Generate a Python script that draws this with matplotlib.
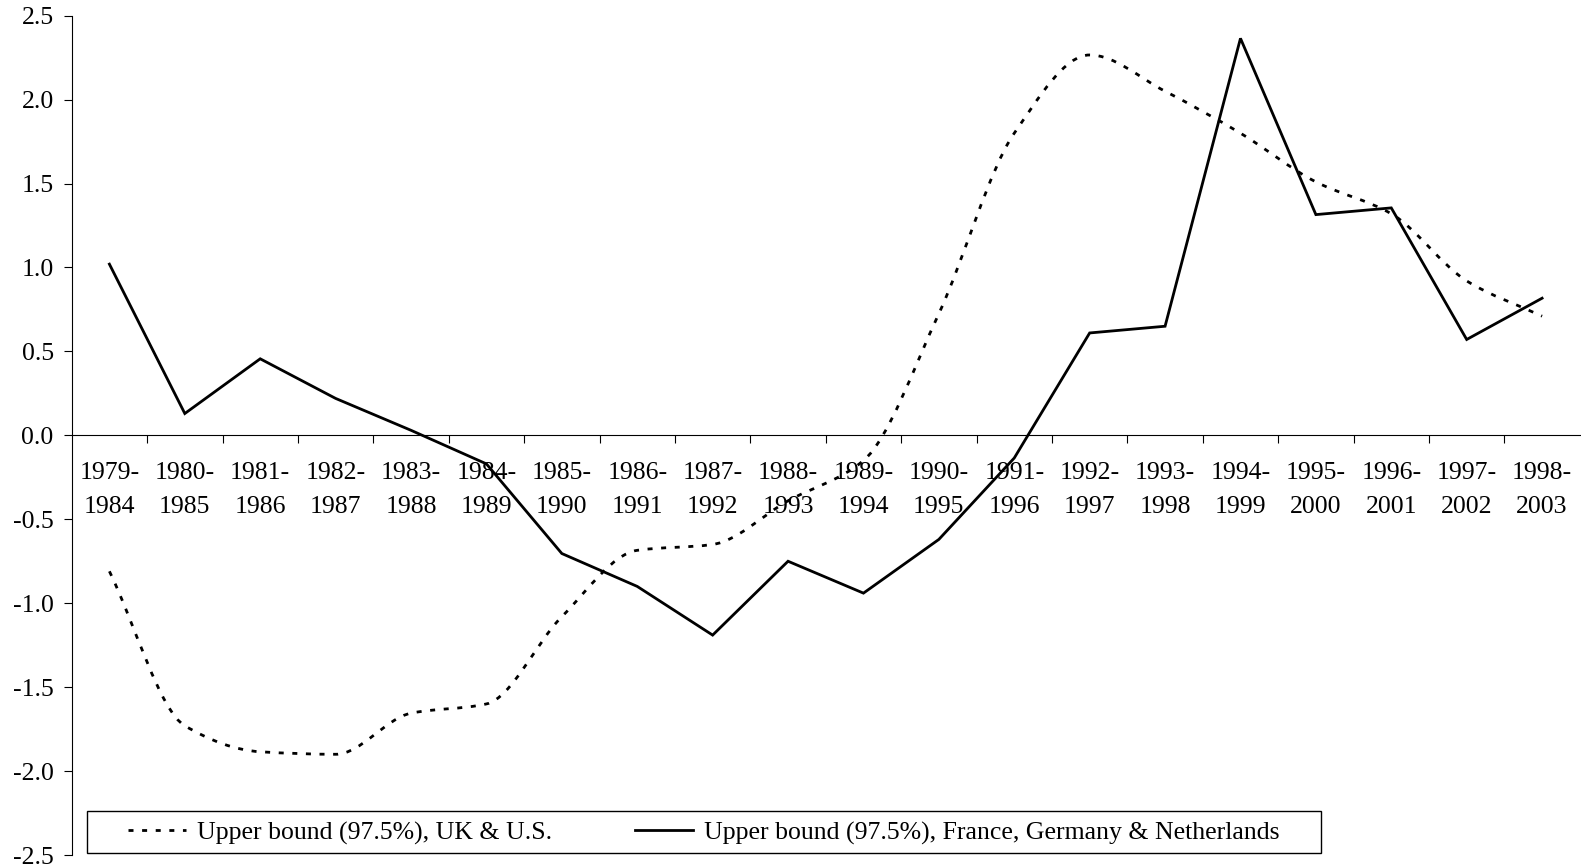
import numpy as np
import matplotlib
matplotlib.use("Agg")
import matplotlib.pyplot as plt
from matplotlib.path import Path
from matplotlib.patches import PathPatch, Rectangle
from matplotlib.lines import Line2D
from matplotlib.ticker import FixedLocator, FormatStrFormatter

plt.rcParams["font.family"] = ["Liberation Serif", "DejaVu Serif"]
plt.rcParams["axes.unicode_minus"] = False

periods = ["1979-\n1984", "1980-\n1985", "1981-\n1986", "1982-\n1987", "1983-\n1988",
           "1984-\n1989", "1985-\n1990", "1986-\n1991", "1987-\n1992", "1988-\n1993",
           "1989-\n1994", "1990-\n1995", "1991-\n1996", "1992-\n1997", "1993-\n1998",
           "1994-\n1999", "1995-\n2000", "1996-\n2001", "1997-\n2002", "1998-\n2003"]

# upper bound (97.5%), UK & U.S.
upper_uk_us = [-0.81, -1.73, -1.885, -1.90, -1.655, -1.60, -1.08, -0.685, -0.65, -0.39,
               -0.15, 0.725, 1.80, 2.266, 2.05, 1.80, 1.51, 1.32, 0.92, 0.71]
# upper bound (97.5%), France, Germany & Netherlands
upper_fgn = [1.02, 0.13, 0.456, 0.22, 0.03, -0.17, -0.704, -0.90, -1.19, -0.75,
             -0.94, -0.62, -0.135, 0.61, 0.65, 2.365, 1.315, 1.355, 0.571, 0.817]

legend_labels = ["Upper bound (97.5%), UK & U.S.",
                 "Upper bound (97.5%), France, Germany & Netherlands"]

FS = 18.5
DOT = (0, (1.8, 3.1))


def smooth_path(x, y):
    # cubic bezier through the points with monotone (Fritsch-Carlson) tangents
    x = np.asarray(x, float)
    y = np.asarray(y, float)
    n = len(x)
    h = np.diff(x)
    d = np.diff(y) / h
    m = np.zeros(n)
    m[0], m[-1] = d[0], d[-1]
    for i in range(1, n - 1):
        if d[i - 1] * d[i] > 0:
            m[i] = 2 * d[i - 1] * d[i] / (d[i - 1] + d[i])
    verts = [(x[0], y[0])]
    codes = [Path.MOVETO]
    for i in range(n - 1):
        verts += [(x[i] + h[i] / 3, y[i] + m[i] * h[i] / 3),
                  (x[i + 1] - h[i] / 3, y[i + 1] - m[i + 1] * h[i] / 3),
                  (x[i + 1], y[i + 1])]
        codes += [Path.CURVE4] * 3
    return Path(verts, codes)


fig = plt.figure(figsize=(15.81, 8.67), dpi=100)
ax = fig.add_axes([0.04535, 0.01384, 0.99924 - 0.04535, 0.9819 - 0.01384])

x = np.arange(len(periods))

curve = PathPatch(smooth_path(x, upper_uk_us), fill=False, edgecolor="black",
                  linewidth=2.0, linestyle=DOT, capstyle="butt", zorder=3)
ax.add_patch(curve)
ax.plot(x, upper_fgn, color="black", linewidth=2.0, solid_joinstyle="miter", zorder=3)

ax.set_xlim(-0.5, len(periods) - 0.5)
ax.set_ylim(-2.5, 2.5)

for side in ["top", "right"]:
    ax.spines[side].set_visible(False)
ax.spines["bottom"].set_position(("data", 0))
ax.spines["bottom"].set_linewidth(0.8)
ax.spines["left"].set_linewidth(0.8)

ax.set_yticks(np.arange(-2.5, 2.51, 0.5))
ax.yaxis.set_major_formatter(FormatStrFormatter("%.1f"))
ax.tick_params(axis="y", direction="out", length=6, width=0.8, pad=7, labelsize=FS)

ax.xaxis.set_major_locator(FixedLocator(np.arange(0.5, len(periods) - 1, 1.0)))
ax.xaxis.set_minor_locator(FixedLocator(x))
ax.set_xticklabels([], minor=False)
ax.set_xticklabels(periods, minor=True, linespacing=1.7)
ax.tick_params(axis="x", which="major", direction="out", length=6, width=0.8)
ax.tick_params(axis="x", which="minor", length=0, pad=19.5, labelsize=FS)

handles = [Line2D([], [], color="black", linewidth=2.0, linestyle=DOT, dash_capstyle="butt"),
           Line2D([], [], color="black", linewidth=2.0)]
fig.legend(handles, legend_labels, loc="center left", bbox_to_anchor=(128 / 1581, 1 - 833 / 867),
           ncol=2, frameon=False, fontsize=FS, borderpad=0, borderaxespad=0,
           handlelength=2.25, handletextpad=0.45, columnspacing=3.2)
fig.patches.append(Rectangle((87.3 / 1581, 1 - 853 / 867), (1321 - 87.3) / 1581, 42.3 / 867,
                             transform=fig.transFigure, fill=False, edgecolor="black",
                             linewidth=1.0))

fig.savefig("out.png", dpi=100)
